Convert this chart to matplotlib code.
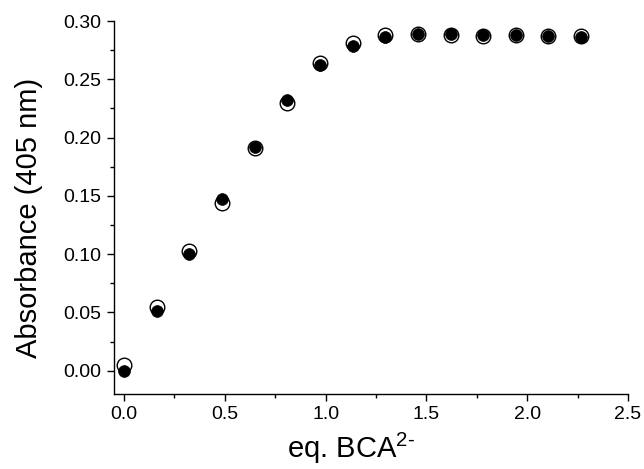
import matplotlib
matplotlib.use('Agg')
import matplotlib.pyplot as plt
from matplotlib.ticker import MultipleLocator

plt.rcParams['font.family'] = ['Liberation Sans', 'DejaVu Sans']
plt.rcParams['mathtext.fontset'] = 'custom'
plt.rcParams['mathtext.rm'] = 'Liberation Sans'

# equivalents of BCA added
eq_bca = [0.0, 0.162, 0.324, 0.486, 0.648, 0.81, 0.972, 1.134,
          1.296, 1.458, 1.62, 1.782, 1.944, 2.106, 2.268]
# absorbance at 405 nm, two titrations
abs_open = [0.005, 0.055, 0.103, 0.144, 0.191, 0.230, 0.264, 0.281,
            0.288, 0.289, 0.288, 0.287, 0.288, 0.287, 0.287]
abs_filled = [0.000, 0.051, 0.100, 0.147, 0.192, 0.232, 0.262, 0.279,
              0.286, 0.289, 0.289, 0.288, 0.288, 0.287, 0.286]

fig = plt.figure(figsize=(6.44, 4.69), dpi=100)
ax = fig.add_axes([0.177, 0.160, 0.798, 0.795])

ax.plot(eq_bca, abs_open, 'o', ms=10.5, mfc='white', mec='black', mew=1.0, zorder=2)
ax.plot(eq_bca, abs_filled, 'o', ms=8.5, mfc='black', mec='black', mew=0.5, zorder=3)

ax.set_xlim(-0.05, 2.5)
ax.set_ylim(-0.02, 0.30)
ax.xaxis.set_major_locator(MultipleLocator(0.5))
ax.xaxis.set_minor_locator(MultipleLocator(0.25))
ax.yaxis.set_major_locator(MultipleLocator(0.05))
ax.yaxis.set_minor_locator(MultipleLocator(0.025))
ax.xaxis.set_major_formatter(plt.FormatStrFormatter('%.1f'))
ax.yaxis.set_major_formatter(plt.FormatStrFormatter('%.2f'))

ax.spines['top'].set_visible(False)
ax.spines['right'].set_visible(False)
for s in ('left', 'bottom'):
    ax.spines[s].set_linewidth(1.0)
ax.tick_params(which='major', direction='out', length=5, width=1.0, labelsize=14, pad=4)
ax.tick_params(which='minor', direction='out', length=3, width=1.0)

ax.set_xlabel(r'eq. BCA$^{2\text{-}}$', fontsize=21, labelpad=5)
ax.set_ylabel('Absorbance (405 nm)', fontsize=21, labelpad=15)
ax.xaxis.label.set_x(0.461)
ax.yaxis.label.set_y(0.473)

fig.savefig('out.png', dpi=100)
